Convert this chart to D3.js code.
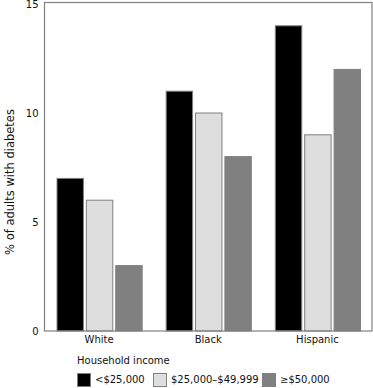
<!DOCTYPE html>
<html><head><meta charset="utf-8">
<script src="https://cdn.jsdelivr.net/npm/d3@7"></script>
<style>body{margin:0;background:#fff}svg{display:block}text{font-family:"DejaVu Sans",Verdana,sans-serif;fill:#111}</style>
</head><body><svg id="c" width="373" height="388"></svg>
<script>
const categories = ["White", "Black", "Hispanic"];
const seriesNames = ["<$25,000", "$25,000\u2013$49,999", "\u2265$50,000"];
const lowIncome = [7, 11, 14];
const midIncome = [6, 10, 9];
const highIncome = [3, 8, 12];
const yTicks = [0, 5, 10, 15];
const colors = ["#000000", "#dedede", "#808080"];
const seriesValues = [lowIncome, midIncome, highIncome];

const svg = d3.select("#c");
const m = {l: 44.5, r: 372, t: 2.5, b: 331};
const x = d3.scaleBand().domain(categories).range([m.l, m.r]).paddingInner(0.22).paddingOuter(0.11);
const xs = d3.scaleBand().domain(d3.range(3)).range([0, x.bandwidth()]).paddingInner(0.1);
const y = d3.scaleLinear().domain([0, 15]).range([m.b, m.t + 1.5]);

// axis tick labels
const ya = svg.append("g").attr("transform", `translate(${m.l},0)`)
  .call(d3.axisLeft(y).tickValues(yTicks).tickSize(0).tickPadding(6));
ya.select(".domain").remove();
ya.selectAll("text").style("font-family", '"DejaVu Sans",Verdana,sans-serif').style("font-size", "10px").attr("fill", "#222");

const xa = svg.append("g").attr("transform", `translate(0,${m.b})`)
  .call(d3.axisBottom(x).tickSize(0).tickPadding(5));
xa.select(".domain").remove();
xa.selectAll("text").style("font-family", '"DejaVu Sans",Verdana,sans-serif').style("font-size", "10px").attr("fill", "#222");

// bars
categories.forEach((c, ci) => {
  seriesValues.forEach((vals, si) => {
    svg.append("rect")
      .attr("x", x(c) + xs(si) + 0.5)
      .attr("y", y(vals[ci]))
      .attr("width", xs.bandwidth())
      .attr("height", m.b - y(vals[ci]))
      .attr("fill", colors[si])
      .attr("stroke", "#808080").attr("stroke-width", 1);
  });
});

// plot frame
svg.append("rect").attr("x", m.l).attr("y", m.t).attr("width", m.r - m.l).attr("height", m.b - m.t)
  .attr("fill", "none").attr("stroke", "#808080").attr("stroke-width", 1.2);

// y title
svg.append("text").attr("transform", "translate(14,182) rotate(-90)").attr("text-anchor", "middle")
  .style("font-size", "11.5px").text("% of adults with diabetes");

// legend
svg.append("text").attr("x", 77).attr("y", 364).style("font-size", "10px").text("Household income");
const lx = [77, 153, 262];
seriesNames.forEach((n, i) => {
  svg.append("rect").attr("x", lx[i] + 0.5).attr("y", 373.5).attr("width", 13).attr("height", 13)
    .attr("fill", colors[i]).attr("stroke", "#808080").attr("stroke-width", 1);
  svg.append("text").attr("x", lx[i] + 18).attr("y", 383).style("font-size", "10px").text(n);
});
</script></body></html>
